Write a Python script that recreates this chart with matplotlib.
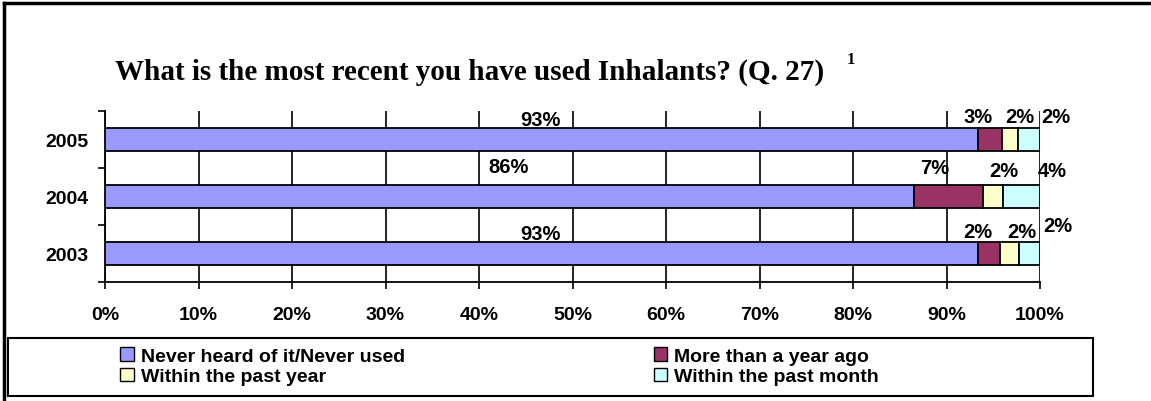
import matplotlib
matplotlib.use("Agg")
import matplotlib.pyplot as plt
import numpy as np
from matplotlib.patches import Rectangle, Patch
from matplotlib.lines import Line2D

years = ["2005", "2004", "2003"]
series_names = ["Never heard of it/Never used", "More than a year ago",
                "Within the past year", "Within the past month"]
never_used = [93.4, 86.5, 93.4]
more_than_year = [2.5, 7.4, 2.3]
past_year = [1.7, 2.1, 2.1]
past_month = [2.4, 4.0, 2.2]
label_texts = [["93%", "3%", "2%", "2%"],
               ["86%", "7%", "2%", "4%"],
               ["93%", "2%", "2%", "2%"]]
colors = ["#9999FF", "#993366", "#FFFFCC", "#CCFFFF"]
xtick_labels = ["0%", "10%", "20%", "30%", "40%", "50%", "60%", "70%", "80%", "90%", "100%"]

# label offsets (pixels) relative to segment centre / bar top
label_dx = [[-1, -12, 10, 27],
            [-1, -14, 11, 31],
            [-1, -11, 12, 28]]
label_dy = [[9, 12, 12, 12],
            [19, 18, 15, 15],
            [9, 11, 11, 17]]

W, H = 1151, 402
fig = plt.figure(figsize=(W / 100, H / 100), dpi=100)
ax = fig.add_axes([105 / W, 1 - 283 / H, (1040 - 105) / W, (283 - 112) / H])

series = [never_used, more_than_year, past_year, past_month]
ypos = np.arange(len(years))[::-1]  # 2005 at top
bar_h = 0.4
left = np.zeros(len(years))
handles = []
for i, vals in enumerate(series):
    vals = np.array(vals)
    ax.barh(ypos, vals, left=left, height=bar_h, color=colors[i],
            edgecolor="black", linewidth=1.3, zorder=3)
    for j in range(len(years)):
        cx = left[j] + vals[j] / 2
        ax.annotate(label_texts[j][i], xy=(cx, ypos[j] + bar_h / 2),
                    xytext=(label_dx[j][i], label_dy[j][i]), textcoords="offset pixels",
                    ha="center", va="center", fontsize=14.5, fontweight="bold",
                    family="Liberation Sans", zorder=5)
    left = left + vals
    handles.append(Patch(facecolor=colors[i], edgecolor="black", linewidth=1.0))

ax.set_xlim(0, 100)
ax.set_ylim(-0.5, 2.5)
ax.set_xticks(np.arange(0, 101, 10))
ax.set_xticklabels(xtick_labels, fontsize=14, fontweight="bold", family="Liberation Sans")
ax.set_yticks(ypos)
ax.set_yticklabels(years, fontsize=14, fontweight="bold", family="Liberation Sans")
ax.set_yticks([-0.5, 0.5, 1.5, 2.5], minor=True)
ax.tick_params(axis="y", which="major", length=0, pad=12)
ax.tick_params(axis="y", which="minor", length=5, width=1.2, direction="out")
ax.tick_params(axis="x", which="major", length=5, width=1.2, direction="out", pad=12)
ax.xaxis.grid(True, color="black", linewidth=1.2, zorder=0)
ax.set_axisbelow(True)
for s in ["top", "right"]:
    ax.spines[s].set_visible(False)
for s in ["left", "bottom"]:
    ax.spines[s].set_linewidth(1.3)

fig.text(470 / W, 1 - 72 / H, "What is the most recent you have used Inhalants? (Q. 27)",
         ha="center", va="center", fontsize=21, fontweight="bold", family="Liberation Serif")
fig.text(851 / W, 1 - 60 / H, "1", ha="center", va="center", fontsize=12,
         fontweight="bold", family="Liberation Serif")

# legend frame
fig.add_artist(Rectangle((8 / W, 1 - 397 / H), (1093 - 8) / W, (397 - 339) / H,
                         transform=fig.transFigure, fill=False, edgecolor="black", linewidth=1.5))
order = [0, 2, 1, 3]  # row-wise fill: row1 = series 0,1 ; row2 = series 2,3
leg = fig.legend([handles[k] for k in order], [series_names[k] for k in order],
                 ncol=2, loc="upper left",
                 bbox_to_anchor=(120 / W, 1 - 348 / H), frameon=False,
                 prop={"family": "Liberation Sans", "weight": "bold", "size": 14},
                 handlelength=0.7, handleheight=0.7, handletextpad=0.36,
                 columnspacing=12.8, labelspacing=0.15, borderpad=0.0, borderaxespad=0.0)

# outer frame (left and top)
fig.add_artist(Line2D([4 / W, 4 / W], [0, 1 - 4 / H], transform=fig.transFigure, color="black", linewidth=2.5))
fig.add_artist(Line2D([4 / W, 1], [1 - 4 / H, 1 - 4 / H], transform=fig.transFigure, color="black", linewidth=2.5))

fig.savefig("out.png", dpi=100)
